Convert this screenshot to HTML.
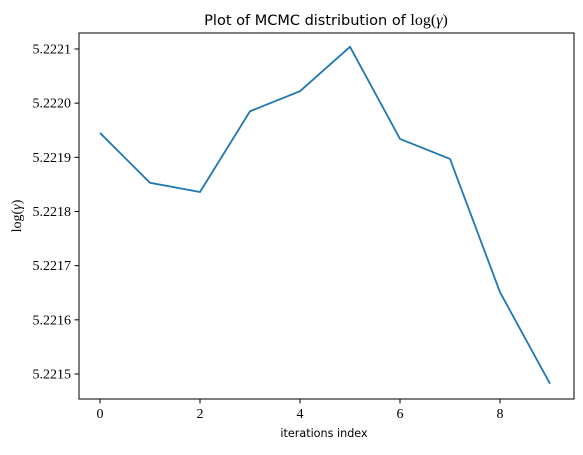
<!DOCTYPE html>
<html><head><meta charset="utf-8"><style>
body{margin:0;background:#fff;}
svg text{fill:#000;}
.serif{font-family:"Liberation Serif","DejaVu Serif",serif;}
.sans{font-family:"DejaVu Sans","Liberation Sans",sans-serif;}
</style></head><body>
<svg id="chart" width="583" height="450" xmlns="http://www.w3.org/2000/svg">
<rect x="79" y="33" width="495" height="366" fill="none" stroke="#000" stroke-width="1"/>
<g id="xt"></g>
<g id="yt"></g>
<polyline id="line" fill="none" stroke="#1f77b4" stroke-width="1.8"/>
<text x="326" y="25" text-anchor="middle" font-size="14.5"><tspan class="sans">Plot of MCMC distribution of </tspan><tspan class="serif" font-size="16">log(<tspan font-style="italic">γ</tspan>)</tspan></text>
<text x="324" y="437" text-anchor="middle" font-size="11.2" class="sans">iterations index</text>
<text transform="translate(21,216) rotate(-90)" text-anchor="middle" font-size="14" class="serif">log(<tspan font-style="italic">γ</tspan>)</text>
</svg>
<script>
const iterations=[0,1,2,3,4,5,6,7,8,9];
const logGamma=[5.221945,5.221853,5.221836,5.221985,5.222022,5.222104,5.221934,5.221897,5.221651,5.221482];
const xTicks=[0,2,4,6,8];
const yTicks=[5.2215,5.2216,5.2217,5.2218,5.2219,5.2220,5.2221];
const X=v=>100+v*50;
const Y=v=>374-(v-5.2215)/0.0001*54.17;
const ns="http://www.w3.org/2000/svg";
const xt=document.getElementById('xt'),yt=document.getElementById('yt');
xTicks.forEach(t=>{
 const l=document.createElementNS(ns,'line');
 l.setAttribute('x1',X(t));l.setAttribute('x2',X(t));l.setAttribute('y1',399);l.setAttribute('y2',403.5);l.setAttribute('stroke','#000');
 
 
 xt.appendChild(l);
 const s=document.createElementNS(ns,'text');
 s.setAttribute('x',X(t));s.setAttribute('y',418);s.setAttribute('text-anchor','middle');s.setAttribute('font-size','14');s.setAttribute('class','serif');
 s.textContent=t;
 
 
 xt.appendChild(s);
});
yTicks.forEach(t=>{
 const l=document.createElementNS(ns,'line');
 l.setAttribute('x1',74.5);l.setAttribute('x2',79);l.setAttribute('y1',Y(t));l.setAttribute('y2',Y(t));l.setAttribute('stroke','#000');
 
 
 yt.appendChild(l);
 const s=document.createElementNS(ns,'text');
 s.setAttribute('x',71);s.setAttribute('y',Y(t)+4.5);s.setAttribute('text-anchor','end');s.setAttribute('font-size','14');s.setAttribute('class','serif');
 s.textContent=t.toFixed(4);
 
 
 yt.appendChild(s);
});
document.getElementById('line').setAttribute('points',iterations.map((v,i)=>X(v)+','+Y(logGamma[i])).join(' '));
</script>
</body></html>
